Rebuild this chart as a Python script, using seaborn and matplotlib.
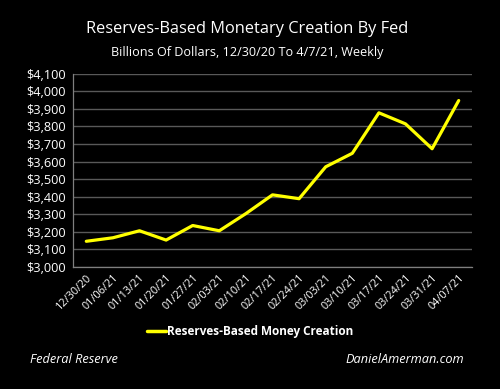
import matplotlib
matplotlib.use("Agg")
import matplotlib.pyplot as plt
import seaborn as sns
import pandas as pd
import numpy as np

dates = ["12/30/20", "01/06/21", "01/13/21", "01/20/21", "01/27/21", "02/03/21",
         "02/10/21", "02/17/21", "02/24/21", "03/03/21", "03/10/21", "03/17/21",
         "03/24/21", "03/31/21", "04/07/21"]
values = [3145, 3165, 3205, 3152, 3235, 3205, 3303, 3410, 3388, 3570, 3647, 3878,
          3815, 3673, 3948]
yticks = [3000, 3100, 3200, 3300, 3400, 3500, 3600, 3700, 3800, 3900, 4000, 4100]
series_name = "Reserves-Based Money Creation"

df = pd.DataFrame({"date": dates, "value": values, "series": series_name})

sns.set_style("dark")
plt.rcParams['font.family'] = ['Open Sans', 'DejaVu Sans']

fig = plt.figure(figsize=(5, 3.89), dpi=100, facecolor="black")
ax = fig.add_axes([0.146, 0.3144, 0.798, 0.4956])
ax.set_facecolor("black")

sns.lineplot(data=df, x="date", y="value", hue="series", palette=["#FFFF00"],
             sort=False, linewidth=2.3, ax=ax, legend=False)

ax.set_xlim(-0.5, len(dates) - 0.5)
ax.set_ylim(3000, 4100)
ax.set_yticks(yticks)
ax.set_yticklabels([f"${v:,.0f}" for v in yticks], color="white", fontsize=9.2)
ax.set_xticks(range(len(dates)))
ax.set_xticklabels(dates, rotation=45, ha="right", rotation_mode="anchor",
                   color="white", fontsize=7.8)
ax.set_xticks(np.arange(-0.5, len(dates), 1), minor=True)
ax.tick_params(axis="x", which="major", length=0, pad=4)
ax.tick_params(axis="x", which="minor", length=3, color="#7f7f7f", width=0.8, direction="out")
ax.tick_params(axis="y", length=3, color="#7f7f7f", width=0.8, direction="out", pad=2)
ax.set_xlabel("")
ax.set_ylabel("")
ax.grid(axis="y", color="#595959", linewidth=1.0)
ax.grid(axis="x", visible=False)
for s in ["top", "right"]:
    ax.spines[s].set_visible(False)
for s in ["left", "bottom"]:
    ax.spines[s].set_visible(True)
    ax.spines[s].set_color("#7f7f7f")
    ax.spines[s].set_linewidth(0.9)

fig.text(0.494, 0.925, "Reserves-Based Monetary Creation By Fed", color="white",
         fontsize=11.8, ha="center", va="center")
fig.text(0.494, 0.866, "Billions Of Dollars, 12/30/20 To 4/7/21, Weekly", color="white",
         fontsize=9.1, ha="center", va="center")

from matplotlib.lines import Line2D
handle = Line2D([], [], color="#FFFF00", linewidth=2.5)
fig.legend([handle], [series_name], loc="center", bbox_to_anchor=(0.5, 0.147),
           frameon=False, handlelength=1.6, handletextpad=0.1,
           prop={"weight": "bold", "size": 8.5}, labelcolor="white")

fig.text(0.06, 0.077, "Federal Reserve", color="white", fontsize=9.2, style="italic",
         ha="left", va="center")
fig.text(0.928, 0.077, "DanielAmerman.com", color="white", fontsize=9.2, style="italic",
         ha="right", va="center")

fig.savefig("out.png", dpi=100, facecolor="black")
